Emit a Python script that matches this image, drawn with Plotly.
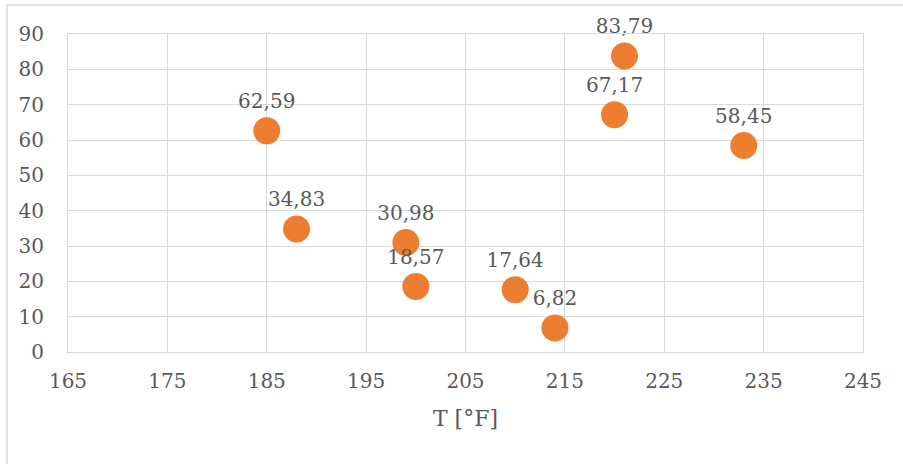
import plotly.graph_objects as go

temps = [185, 188, 199, 200, 210, 214, 220, 221, 233]
values = [62.59, 34.83, 30.98, 18.57, 17.64, 6.82, 67.17, 83.79, 58.45]
labels = ["62,59", "34,83", "30,98", "18,57", "17,64", "6,82", "67,17", "83,79", "58,45"]
x_ticks = [165, 175, 185, 195, 205, 215, 225, 235, 245]
y_ticks = [0, 10, 20, 30, 40, 50, 60, 70, 80, 90]

FONT = "DejaVu Serif"
TXT = "#595959"

fig = go.Figure()
fig.add_trace(go.Scatter(
    x=temps, y=values, mode="markers+text",
    text=labels, textposition="top center",
    textfont=dict(family=FONT, size=20, color=TXT),
    marker=dict(color="#ED7D31", size=27, line=dict(width=0)),
    cliponaxis=False, showlegend=False,
))

fig.update_layout(
    width=903, height=464,
    margin=dict(l=68, r=40, t=34, b=112),
    paper_bgcolor="white", plot_bgcolor="white",
    font=dict(family=FONT, color=TXT, size=20),
    xaxis=dict(
        range=[165, 245], tickvals=x_ticks, ticktext=[str(v) for v in x_ticks],
        showgrid=True, gridcolor="#D9D9D9", gridwidth=1,
        showline=True, linecolor="#D9D9D9", linewidth=1, mirror=True,
        zeroline=False, ticks="", ticklabelstandoff=11,
        tickfont=dict(family=FONT, size=20, color=TXT),
        title=dict(text="T [°F]", font=dict(family=FONT, size=22, color=TXT), standoff=18),
    ),
    yaxis=dict(
        range=[0, 90], tickvals=y_ticks,
        showgrid=True, gridcolor="#D9D9D9", gridwidth=1,
        showline=True, linecolor="#D9D9D9", linewidth=1, mirror=True,
        zeroline=False, ticks="", ticklabelstandoff=19,
        tickfont=dict(family=FONT, size=20, color=TXT),
    ),
    shapes=[dict(type="rect", xref="paper", yref="paper",
                 x0=-61/795, x1=1.2, y0=-0.6, y1=1 + 29/318,
                 line=dict(color="#D9D9D9", width=1.5), fillcolor="rgba(0,0,0,0)",
                 layer="below")],
)

fig.write_html("out.html")
